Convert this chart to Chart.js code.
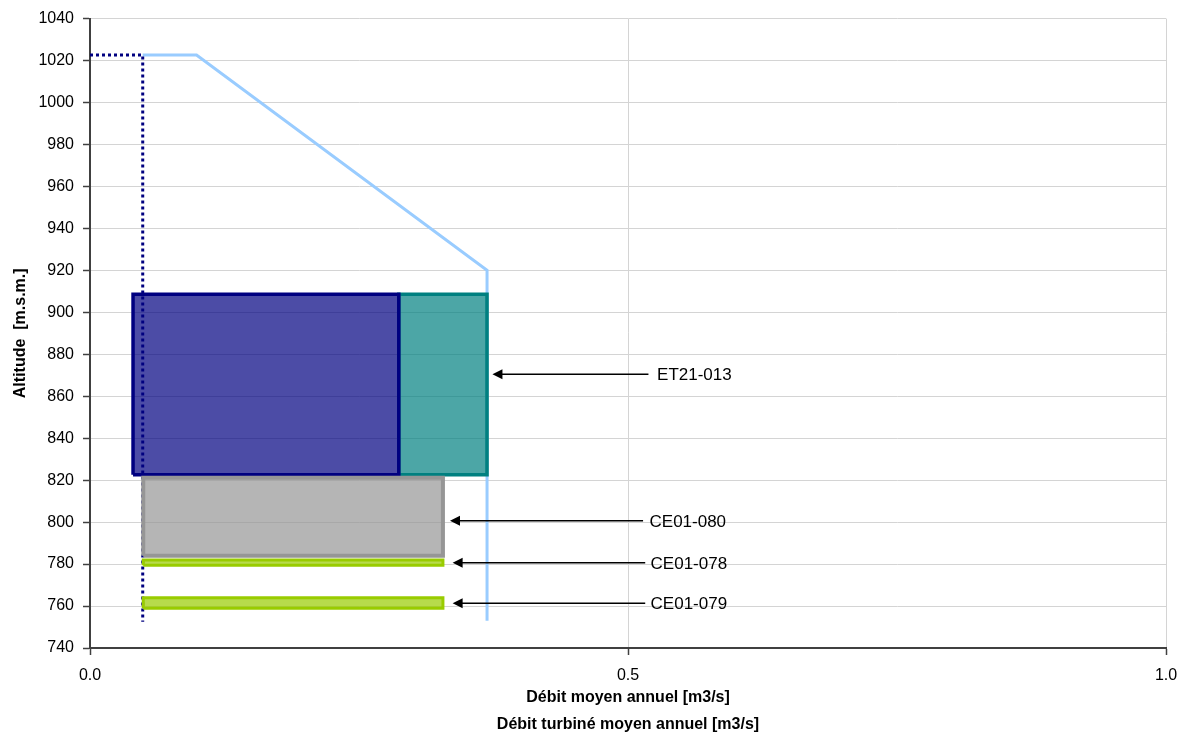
<!DOCTYPE html>
<html>
<head>
<meta charset="utf-8">
<script src="https://cdn.jsdelivr.net/npm/chart.js@4.4.1/dist/chart.umd.min.js"></script>
<style>
  html, body { margin: 0; padding: 0; background: #ffffff; }
  canvas { display: block; }
</style>
</head>
<body>
<canvas id="c" width="1187" height="738"></canvas>
<script>
// ---- Data ----
const xTickValues = [0.0, 0.5, 1.0];
const yMin = 740, yMax = 1040, yStep = 20;

// Rectangles (débit ranges vs altitude ranges)
const rectNames  = ['ET21-013 a', 'ET21-013 b', 'CE01-080', 'CE01-078', 'CE01-079'];
const rectX0     = [0.040, 0.287, 0.0495, 0.0495, 0.0495];
const rectX1     = [0.287, 0.369, 0.328, 0.328, 0.328];
const rectYLow   = [822.6, 822.6, 784.0, 779.5, 759.0];
const rectYHigh  = [908.6, 908.6, 821.2, 782.0, 764.0];

// Débit moyen annuel (dotted)
const debitX = [0.000, 0.049, 0.049];
const debitY = [1022.6, 1022.6, 752.5];

// Débit turbiné moyen annuel (light blue)
const turbX = [0.049, 0.099, 0.369, 0.369];
const turbY = [1022.6, 1022.6, 920.0, 753.0];

// Annotations (label, altitude, arrow tip x, arrow tail x, label x)
const annLabels = ['ET21-013', 'CE01-080', 'CE01-078', 'CE01-079'];
const annY      = [870.5, 800.6, 780.6, 761.3];
const annTipX   = [0.374, 0.3346, 0.337, 0.337];
const annTailX  = [0.519, 0.514, 0.516, 0.516];
const annTextX  = [0.527, 0.520, 0.521, 0.521];

// ---- Styles ----
const rectBorder = ['#000080', '#008080', '#969696', '#99CC00', '#99CC00'];
const rectFill   = ['rgba(0,0,128,0.7)', 'rgba(0,128,128,0.7)', 'rgba(150,150,150,0.7)', 'rgba(153,204,0,0.7)', 'rgba(153,204,0,0.7)'];
const rectWidth  = [3.5, 3.5, 4, 3, 3];
const FONT = '"Liberation Sans", Arial, sans-serif';

function rectPoints(i) {
  return [
    {x: rectX0[i], y: rectYLow[i]},
    {x: rectX0[i], y: rectYHigh[i]},
    {x: rectX1[i], y: rectYHigh[i]},
    {x: rectX1[i], y: rectYLow[i]},
    {x: rectX0[i], y: rectYLow[i]}
  ];
}
function rectDataset(i) {
  return {
    label: rectNames[i],
    data: rectPoints(i),
    showLine: true,
    fill: 'shape',
    backgroundColor: rectFill[i],
    borderColor: rectBorder[i],
    borderWidth: rectWidth[i],
    borderJoinStyle: 'miter',
    pointRadius: 0,
    tension: 0
  };
}

// Drawing order: first dataset is drawn on top
const datasets = [
  rectDataset(4),
  rectDataset(3),
  rectDataset(2),
  {
    label: 'Débit moyen annuel',
    data: debitX.map((x, i) => ({x, y: debitY[i]})),
    showLine: true, fill: false,
    borderColor: '#000080', borderWidth: 3, borderDash: [3, 3],
    borderCapStyle: 'butt', pointRadius: 0
  },
  rectDataset(0),
  rectDataset(1),
  {
    label: 'Débit turbiné moyen annuel',
    data: turbX.map((x, i) => ({x, y: turbY[i]})),
    showLine: true, fill: false,
    borderColor: '#99CCFF', borderWidth: 3, borderJoinStyle: 'miter',
    pointRadius: 0
  }
];

const arrowPlugin = {
  id: 'arrows',
  afterDatasetsDraw(chart) {
    const ctx = chart.ctx;
    const xs = chart.scales.x, ys = chart.scales.y;
    ctx.save();
    for (let i = 0; i < annLabels.length; i++) {
      const y = ys.getPixelForValue(annY[i]);
      const tip = xs.getPixelForValue(annTipX[i]);
      const tail = xs.getPixelForValue(annTailX[i]);
      const head = 10, half = 5;
      ctx.strokeStyle = '#000'; ctx.fillStyle = '#000'; ctx.lineWidth = 1.5;
      ctx.beginPath(); ctx.moveTo(tail, y); ctx.lineTo(tip + head - 1, y); ctx.stroke();
      ctx.beginPath(); ctx.moveTo(tip, y); ctx.lineTo(tip + head, y - half); ctx.lineTo(tip + head, y + half); ctx.closePath(); ctx.fill();
      ctx.font = '17px ' + FONT;
      ctx.textAlign = 'left'; ctx.textBaseline = 'middle';
      ctx.fillText(annLabels[i], xs.getPixelForValue(annTextX[i]), y + 1);
    }
    ctx.restore();
  }
};

new Chart(document.getElementById('c'), {
  type: 'scatter',
  data: { datasets },
  options: {
    responsive: false,
    animation: false,
    devicePixelRatio: 1,
    layout: { padding: { left: 0, right: 21, top: 18, bottom: 0 } },
    plugins: { legend: { display: false }, tooltip: { enabled: false } },
    scales: {
      x: {
        type: 'linear', min: 0, max: 1,
        afterBuildTicks(scale) { scale.ticks = xTickValues.map(v => ({value: v})); },
        afterFit(scale) { scale.height = 90; scale.paddingLeft = 12; scale.paddingRight = 12; },
        ticks: { callback: v => Number(v).toFixed(1), color: '#000', padding: 11, maxRotation: 0,
                 font: { family: FONT, size: 16 } },
        grid: { color: '#D4D4D4', lineWidth: 1, tickLength: 7, tickColor: '#404040', tickWidth: 1.5 },
        border: { color: '#404040', width: 2 },
        title: { display: true, text: ['Débit moyen annuel [m3/s]', 'Débit turbiné moyen annuel [m3/s]'],
                 color: '#000', font: { family: FONT, size: 16, weight: 'bold', lineHeight: 1.69 },
                 padding: { top: 0, bottom: 0 } }
      },
      y: {
        type: 'linear', min: yMin, max: yMax,
        ticks: { stepSize: yStep, callback: v => String(v), color: '#000', padding: 9,
                 font: { family: FONT, size: 16 } },
        afterFit(scale) { scale.width = 90; },
        grid: { color: '#D4D4D4', lineWidth: 1, tickLength: 7, tickColor: '#404040', tickWidth: 1.5 },
        border: { color: '#404040', width: 2 },
        title: { display: true, text: 'Altitude  [m.s.m.]', color: '#000',
                 font: { family: FONT, size: 16, weight: 'bold', lineHeight: 1.2 },
                 padding: { top: 11, bottom: 0 } }
      }
    }
  },
  plugins: [arrowPlugin]
});
</script>
</body>
</html>
